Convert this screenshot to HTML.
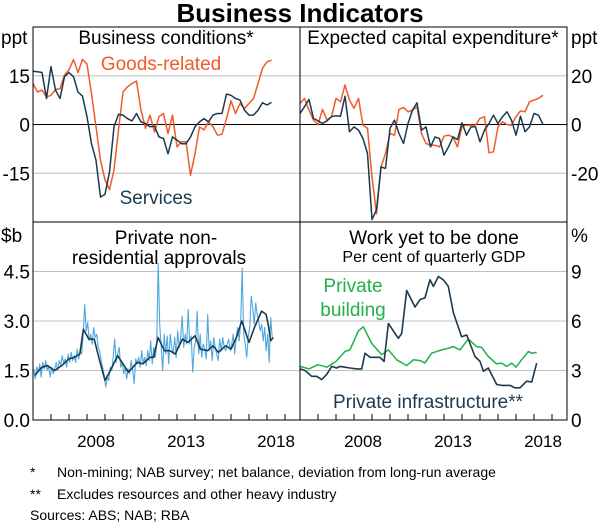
<!DOCTYPE html>
<html><head><meta charset="utf-8"><style>
body{margin:0;background:#fff;}
svg text{font-family:"Liberation Sans",Arial,sans-serif;}
</style></head><body>
<svg id="c" width="600" height="527" viewBox="0 0 600 527" xmlns="http://www.w3.org/2000/svg">
<text x="300" y="22" text-anchor="middle" font-size="26" font-weight="bold">Business Indicators</text>
<g id="grid"></g>
<g id="series"></g>
<g id="frame"></g>
<g id="labels"></g>
<text x="30" y="477" font-size="14">*</text>
<text x="57" y="477" font-size="14">Non-mining; NAB survey; net balance, deviation from long-run average</text>
<text x="30" y="499" font-size="14">**</text>
<text x="57" y="499" font-size="14">Excludes resources and other heavy industry</text>
<text x="30" y="520" font-size="14">Sources: ABS; NAB; RBA</text>
</svg>
<script>
// Business conditions, quarterly from 2005Q1
const goodsRelated=[12.6,10,10.6,8.5,9,10.8,11,15.2,16.8,20,16,20,18.6,9.5,-0.7,-11,-17,-20,-14,-1.7,10,11.6,12.6,13.4,4.4,-1.2,2.9,-2.3,2.4,3.4,-2.8,2.9,-6.9,-5.3,-5.3,-15.6,-9,-0.7,-1.7,0.8,-0.7,-3.3,-3,1.8,7.3,3.4,6.5,4.9,6.5,8,12.6,17.3,19.3,19.8];
const services=[16.4,16.2,16,8,17.8,10.6,8,14.7,16,14.7,10,8.7,2.4,-5.9,-11,-22.3,-21.5,-14.6,-0.7,3.1,2.9,1.8,1.1,3.4,0.8,0.3,-0.7,-0.5,-3.8,-4.3,-9,-3.8,-4.8,-5.9,-5.9,-3.8,-0.7,0.8,1.8,0.8,2.9,3.4,3.4,9.4,9,8,7.5,4.4,2.9,2.9,4.4,6.7,6,6.8];
// Capex expectations, quarterly from 2005Q1
const capexGoods=[8.6,10.7,5.9,1.8,0,6.2,1.8,3.2,10.7,9.3,16.2,10,6.6,10.7,-0.3,-1.6,-21.5,-36.6,-17.4,-11.9,-3.7,-4.4,6.2,7,5.2,5.9,7.3,-3.7,-7.8,-8.5,-8.5,-9.2,-4.8,-4.4,-5.1,-9.2,-0.7,-0.3,-0.3,-0.3,2.5,3.2,-11.6,-11.2,-1,1.1,0,-0.3,3.2,5.6,5.2,9.3,10,10.7,12];
const capexServices=[4.5,7.3,10.3,2.5,1.5,0.4,1.5,3.2,3.6,3.4,11.6,-3,-1,-2.3,-5.8,-11.9,-39,-35,-17.4,-18,-1.6,1.8,-3.7,-7.8,0.4,5.9,8.9,-2.3,-1,-9.2,-5.1,-5.8,-12.6,-9.2,-5.1,-6.2,0.7,-4.4,-1,-1,-7.1,-2.3,0.4,3.8,0.4,3.2,5.2,1.8,-4.4,3.4,-3,-1,4.5,3.8,0];
// Approvals, monthly raw from Jan 2005
const approvalsRaw=[1.55,1.25,1.6,1.45,1.7,1.3,1.75,1.55,1.8,1.5,1.65,1.3,
1.6,1.4,1.55,1.75,1.5,1.8,1.65,1.95,1.7,1.85,1.6,2.0,
1.75,2.05,1.8,1.95,1.75,2.15,1.85,2.1,2.0,2.6,3.5,2.7,
2.95,2.4,2.6,2.3,2.8,2.5,2.6,2.2,2.1,1.8,1.6,1.35,
1.0,1.3,1.2,1.6,1.5,1.9,2.45,1.75,2.0,2.2,1.6,1.75,
1.4,1.6,1.25,1.55,1.4,1.8,1.5,1.1,1.85,1.7,1.9,1.6,
2.1,1.7,1.9,1.65,2.1,1.8,2.4,1.7,2.2,1.9,2.3,4.75,
2.9,2.2,1.5,2.6,2.0,2.55,1.7,2.6,2.2,2.0,2.5,1.9,
2.7,2.2,2.5,3.15,2.2,2.6,2.3,3.35,2.3,2.55,1.45,2.2,
2.4,3.3,2.0,2.6,1.9,2.3,2.15,1.85,3.2,2.1,2.4,1.8,
2.5,2.2,2.0,1.8,2.45,2.1,2.5,2.2,2.1,2.3,2.45,2.1,
2.3,2.6,2.0,2.5,2.8,2.4,3.0,4.6,2.6,2.3,1.9,2.5,
2.8,3.75,3.4,2.9,3.55,3.2,3.0,2.7,2.9,2.4,2.8,2.1,
2.6,1.75,3.1,2.5];
const trendYears=[2005.1,2005.5,2005.8,2006.2,2006.6,2007.0,2007.3,2007.6,2007.8,2008.1,2008.4,2008.7,2009.0,2009.3,2009.7,2010.0,2010.3,2010.8,2011.1,2011.5,2011.7,2011.95,2012.3,2012.6,2012.9,2013.3,2013.6,2014.0,2014.3,2014.7,2015.0,2015.3,2015.7,2016.0,2016.3,2016.6,2017.0,2017.3,2017.7,2017.95,2018.1,2018.2,2018.35];
const trendValues=[1.35,1.6,1.65,1.5,1.65,1.85,1.9,2.0,2.75,2.45,2.45,1.8,1.2,1.5,1.95,1.7,1.45,1.75,1.7,1.9,1.9,2.5,2.1,2.1,2.0,2.45,2.35,2.55,2.15,2.1,2.25,2.05,2.25,2.15,2.5,3.0,2.35,2.8,3.3,3.2,2.8,2.4,2.5];
// Work yet to be done
const buildYears=[2005.0,2005.5,2006.0,2006.5,2007.0,2007.5,2007.78,2008.24,2008.52,2008.98,2009.54,2009.91,2010.37,2010.93,2011.3,2011.67,2011.94,2012.31,2012.87,2013.24,2013.52,2013.89,2014.35,2014.81,2015.09,2015.46,2015.93,2016.2,2016.48,2016.76,2017.0,2017.31,2017.69,2017.87,2018.15];
const buildValues=[3.25,3.1,3.35,3.2,3.55,4.15,4.25,5.4,5.65,4.65,3.95,4.25,3.65,3.3,3.65,3.6,3.45,4.05,4.25,4.35,4.45,4.25,4.9,4.45,4.4,3.85,3.4,3.45,3.25,3.45,3.2,3.65,4.15,4.05,4.1];
const infraYears=[2005.0,2005.28,2005.65,2005.93,2006.2,2006.48,2006.76,2007.04,2007.22,2007.5,2007.78,2008.15,2008.43,2008.61,2008.89,2009.44,2009.67,2009.91,2010.46,2010.65,2010.93,2011.39,2011.67,2011.94,2012.22,2012.41,2012.69,2012.96,2013.24,2013.52,2013.98,2014.26,2014.72,2015.0,2015.19,2015.46,2015.93,2016.2,2016.67,2016.94,2017.22,2017.59,2017.87,2018.15];
const infraValues=[3.1,3.0,2.65,2.65,2.45,2.75,3.25,3.15,3.25,3.2,3.15,3.1,3.1,4.05,3.8,3.8,3.55,5.85,4.95,5.25,7.85,6.85,7.3,7.4,8.5,8.1,8.7,8.5,8.1,6.5,5.05,5.15,3.85,3.55,2.95,3.15,2.15,2.1,2.1,1.95,1.95,2.35,2.3,3.45];

const leftTicks=["15","0","-15"], leftTickVals=[15,0,-15];
const rightTicks=["20","0","-20"], rightTickVals=[20,0,-20];
const blTicks=["4.5","3.0","1.5","0.0"], blTickVals=[4.5,3,1.5,0];
const brTicks=["9","6","3","0"], brTickVals=[9,6,3,0];
const yearLabels=["2008","2013","2018"], yearLabelVals=[2008,2013,2018];

const NS='http://www.w3.org/2000/svg';
const P={tl:{x0:33,x1:300,y0:27,y1:222,min:-30,max:30},tr:{x0:300,x1:567,y0:27,y1:222,min:-40,max:40},
bl:{x0:33,x1:300,y0:222,y1:420,min:0,max:6},br:{x0:300,x1:567,y0:222,y1:420,min:0,max:12}};
function xs(p,t){return p.x0+18*(t-2005);}
function ys(p,v){return p.y1-(v-p.min)/(p.max-p.min)*(p.y1-p.y0);}
function mk(tag,attrs,parent){const e=document.createElementNS(NS,tag);for(const k in attrs)e.setAttribute(k,attrs[k]);document.getElementById(parent).appendChild(e);return e;}
function line(p,years,vals,color,w,name){
  const d=vals.map((v,i)=>(i?'L':'M')+xs(p,years[i]).toFixed(1)+','+ys(p,v).toFixed(1)).join('');
  const e=mk('path',{d:d,fill:'none',stroke:color,'stroke-width':w,'stroke-linejoin':'round'},'series');
  
  
}
function idxYears(n,start,step){const a=[];for(let i=0;i<n;i++)a.push(start+i*step);return a;}
function grid(p,vals,name){vals.forEach(v=>{const y=ys(p,v);const e=mk('line',{x1:p.x0,x2:p.x1,y1:y,y2:y,stroke:v===0&&p.min<0?'#000':'#c0c0c0','stroke-width':1},'grid');
  
  });}
function text(x,y,s,anchor,size,color,name,parent){const e=mk('text',{x:x,y:y,'text-anchor':anchor,'font-size':size,fill:color||'#000'},parent||'labels');e.textContent=s;
  
  return e;}

grid(P.tl,leftTickVals,'gridline');grid(P.tr,rightTickVals,'gridline');
grid(P.bl,[4.5,3,1.5],'gridline');grid(P.br,[9,6,3],'gridline');

const OR='#f15a29',NV='#1c3a4f',LB='#4ea8e0',GR='#22b04b';
line(P.tl,idxYears(goodsRelated.length,2005,0.25),goodsRelated,OR,1.5,'goods-related-line');
line(P.tl,idxYears(services.length,2005,0.25),services,NV,1.5,'services-line');
line(P.tr,idxYears(capexGoods.length,2005,0.25),capexGoods,OR,1.5,'capex-goods-line');
line(P.tr,idxYears(capexServices.length,2005,0.25),capexServices,NV,1.5,'capex-services-line');
line(P.bl,idxYears(approvalsRaw.length,2005.04,1/12),approvalsRaw,LB,1.1,'approvals-raw-line');
line(P.bl,trendYears,trendValues,NV,1.6,'approvals-trend-line');
line(P.br,buildYears,buildValues,GR,1.5,'private-building-line');
line(P.br,infraYears,infraValues,NV,1.6,'private-infrastructure-line');

[['rect',{x:33,y:27,width:534,height:393,fill:'none',stroke:'#000','stroke-width':1}],
 ['line',{x1:300,x2:300,y1:27,y2:420,stroke:'#000'}],
 ['line',{x1:33,x2:567,y1:222,y2:222,stroke:'#000'}]].forEach(a=>{const e=mk(a[0],a[1],'frame');
  
  });
for(let yr=2006;yr<=2019;yr++){[P.bl,P.br].forEach(p=>{const x=xs(p,yr);const e=mk('line',{x1:x,x2:x,y1:420,y2:414,stroke:'#000'},'frame');
  
  });}

leftTickVals.forEach((v,i)=>text(30,ys(P.tl,v)+7,leftTicks[i],'end',19,'#000','y-tick-left'));
rightTickVals.forEach((v,i)=>text(571,ys(P.tr,v)+7,rightTicks[i],'start',19,'#000','y-tick-right'));
blTickVals.forEach((v,i)=>text(30,ys(P.bl,v)+7,blTicks[i],'end',19,'#000','y-tick-left'));
brTickVals.forEach((v,i)=>text(571,ys(P.br,v)+7,brTicks[i],'start',19,'#000','y-tick-right'));
yearLabelVals.forEach((v,i)=>{text(xs(P.bl,v+0.5),447,yearLabels[i],'middle',17,'#000','x-tick-label');text(xs(P.br,v+0.5),447,yearLabels[i],'middle',17,'#000','x-tick-label');});
text(1,44,'ppt','start',19,'#000','y-unit-left');
text(571,44,'ppt','start',19,'#000','y-unit-right');
text(1,242,'$b','start',19,'#000','y-unit-left');
text(571,242,'%','start',19,'#000','y-unit-right');
text(166,44,'Business conditions*','middle',19,'#000','panel-title');
text(433,44,'Expected capital expenditure*','middle',19,'#000','panel-title');
text(166,244,'Private non-','middle',19,'#000','panel-title');
text(159,264,'residential approvals','middle',19,'#000','panel-title');
text(434,244,'Work yet to be done','middle',19,'#000','panel-title');
text(434,262,'Per cent of quarterly GDP','middle',16,'#000','panel-subtitle');
text(161,70,'Goods-related','middle',19,OR,'goods-related-label');
text(156,204,'Services','middle',19,NV,'services-label');
text(353,292,'Private','middle',19,GR,'private-building-label');
text(353,316,'building','middle',19,GR,'private-building-label');
text(428,408,'Private infrastructure**','middle',19,NV,'private-infrastructure-label');
</script>
</body></html>
